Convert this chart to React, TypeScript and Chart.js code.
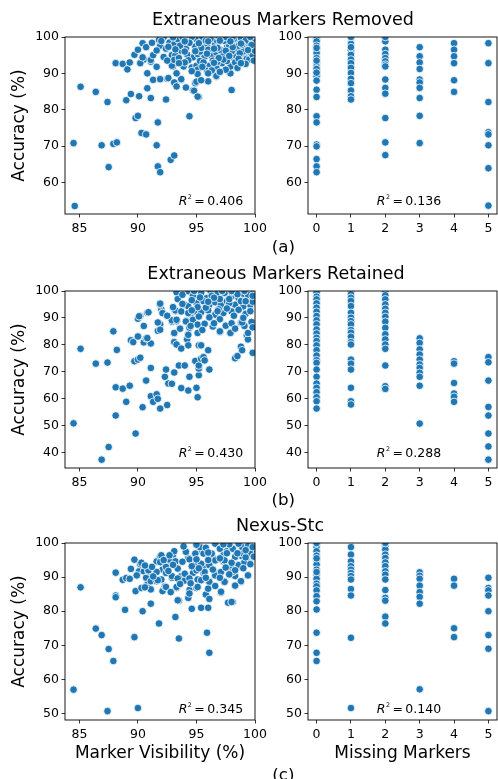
import React, { useEffect, useRef } from "react";
import { Chart, registerables } from "chart.js";

Chart.register(...registerables);

const FONT = "'DejaVu Sans', Verdana, sans-serif";
const BLUE = "#1f77b4";

// ---------- text ----------
const rowTitles = ["Extraneous Markers Removed", "Extraneous Markers Retained", "Nexus-Stc"];
const rowTags = ["(a)", "(b)", "(c)"];
const xLabelVis = "Marker Visibility (%)";
const xLabelMissing = "Missing Markers";
const yLabelAcc = "Accuracy (%)";
const r2Values = [["0.406", "0.136"], ["0.430", "0.288"], ["0.345", "0.140"]];

// ---------- ticks ----------
const visTicks = [85, 90, 95, 100];
const missingTicks = [0, 1, 2, 3, 4, 5];
const accTicksA = [60, 70, 80, 90, 100];
const accTicksB = [40, 50, 60, 70, 80, 90, 100];
const accTicksC = [50, 60, 70, 80, 90, 100];
const visRange = [83.77, 100];
const missingRange = [-0.25, 5.25];
const accRangeA = [51.3, 100];
const accRangeB = [34.2, 100];
const accRangeC = [48.1, 100];

// ---------- data: (a) Extraneous Markers Removed ----------
const removedVisAcc: [number, number][] = [
  [84.6, 53.5], [84.5, 70.8], [85.1, 86.3], [86.4, 84.9], [86.9, 70.2], [87.4, 82.1], [87.5, 64.2],
  [87.9, 70.6], [88.2, 71.0], [88.1, 92.8], [88.7, 92.6], [89.1, 91.1], [89.3, 93.0], [89.0, 82.6],
  [89.4, 84.3], [89.7, 95.1], [90.0, 96.5], [89.8, 77.7], [90.0, 78.3], [90.1, 83.7], [90.3, 73.6],
  [90.7, 73.2], [90.4, 98.3], [90.5, 93.8], [90.2, 92.8], [90.7, 97.2], [90.8, 90.0], [90.8, 85.9],
  [91.1, 83.2], [91.1, 93.2], [91.3, 88.2], [91.7, 76.5], [91.6, 70.2], [91.7, 64.4], [91.9, 62.8],
  [91.9, 88.3], [92.4, 82.8], [92.5, 88.5], [92.8, 66.2], [93.1, 67.4], [93.2, 87.3], [93.0, 91.9],
  [93.7, 88.2], [94.1, 86.1], [94.4, 78.2], [94.7, 85.3], [94.9, 87.3], [95.2, 83.5], [96.0, 87.8],
  [96.7, 89.1], [97.9, 90.0], [98.0, 85.4], [97.9, 91.9],
  [91.8, 99.2], [91.9, 97.6], [92.7, 98.5], [93.1, 98.0], [93.4, 99.4], [94.1, 96.8], [94.3, 99.6],
  [95.0, 99.4], [94.9, 97.4], [95.6, 98.9], [95.9, 97.6], [96.6, 98.0], [96.7, 99.2], [97.4, 98.9],
  [97.6, 97.1], [98.3, 98.0], [98.6, 98.9], [99.3, 98.5], [99.6, 96.8], [99.7, 99.4], [90.4, 94.4],
  [91.1, 93.7], [91.3, 95.0], [92.2, 94.5], [92.9, 95.0], [93.2, 95.0], [93.7, 96.2], [94.7, 94.4],
  [95.1, 95.3], [95.7, 94.6], [96.3, 94.8], [96.7, 95.7], [97.2, 95.0], [98.0, 94.5], [98.4, 94.8],
  [99.1, 95.3], [92.9, 92.1], [93.1, 93.7], [93.9, 91.9], [94.6, 91.6], [95.0, 92.1], [95.3, 93.4],
  [96.1, 92.1], [96.7, 91.6], [97.2, 92.8], [95.1, 91.0], [95.1, 89.8], [95.9, 90.7], [96.7, 89.3],
  [91.9, 88.4], [92.6, 88.7], [93.1, 87.5], [93.7, 88.4], [95.0, 87.7], [95.4, 88.1], [93.3, 86.4],
  [94.8, 85.2], [95.1, 83.6], [93.3, 90.0],
  [98.8, 99.6], [99.2, 97.2], [99.5, 98.2], [99.8, 99.0], [98.5, 96.5], [97.8, 97.5], [99.0, 96.0],
  [99.6, 95.8], [98.2, 99.5], [97.2, 99.7], [96.2, 99.5], [95.5, 100], [94.6, 100], [93.8, 100],
  [93.0, 99.9], [92.2, 100], [97.0, 96.5], [96.0, 96.5], [95.3, 96.0], [94.4, 98.4], [93.6, 97.6],
  [98.9, 93.4], [99.3, 94.0], [99.9, 97.0], [96.4, 93.5], [97.6, 93.4], [95.8, 99.0], [94.0, 98.8],
  [98.0, 96.0], [98.6, 97.6], [99.4, 99.8], [97.5, 100], [96.8, 97.0], [95.4, 97.0], [94.2, 95.2],
  [93.5, 94.2], [96.8, 93.2], [98.3, 93.0], [99.5, 93.8], [92.4, 96.8], [91.6, 96.3], [95.6, 93.0],
  [94.3, 93.6], [94.6, 90.6], [96.3, 90.8], [97.3, 93.8], [98.7, 95.5], [99.8, 95.0], [99.2, 99.0],
  [100, 98.6], [100, 96.2], [98.1, 100], [96.9, 100],
  [96.5, 96.8], [97.5, 96.2], [98.1, 97.2], [98.9, 97.9], [99.7, 97.8], [96.9, 94.2], [97.8, 94.8],
  [98.6, 94.0], [99.4, 96.4], [95.9, 95.4], [94.9, 96.1], [94.0, 96.0], [93.2, 96.6], [92.6, 97.3],
  [91.2, 98.4], [92.0, 98.9], [95.2, 98.3], [96.0, 98.8], [97.0, 99.0], [97.9, 98.8], [98.8, 98.2],
  [99.6, 100], [96.0, 90.0], [97.5, 91.0], [98.5, 91.5], [99.2, 92.6], [96.5, 92.9], [94.0, 93.0],
  [92.5, 93.5], [91.6, 91.8], [93.5, 92.8], [95.5, 91.8], [97.0, 90.4], [98.8, 92.8], [99.9, 93.5],
];
const removedMissingAcc: number[][] = [
  [100, 99.4, 98.8, 97.6, 96.5, 95.6, 94.2, 92.8, 91.9, 90.6, 89.6, 89.2, 88.0, 85.5, 83.5, 78.2, 76.5,
    70.4, 69.9, 66.4, 64.4, 62.8, 97.0, 93.5, 91.2, 90.2],
  [99.7, 98.1, 96.3, 95.1, 93.8, 92.8, 91.5, 90.1, 88.5, 87.3, 85.3, 83.7, 82.8, 100, 97.2],
  [99.7, 98.8, 96.5, 95.3, 94.2, 93.3, 92.4, 91.9, 88.3, 86.0, 84.4, 77.7, 71.0, 67.5, 100],
  [97.2, 94.7, 93.0, 91.2, 88.3, 87.5, 86.0, 83.2, 78.3, 70.8],
  [98.3, 96.5, 94.7, 92.8, 88.1, 84.9],
  [98.3, 92.8, 82.1, 73.8, 73.2, 70.2, 63.9, 53.6],
];

// ---------- data: (b) Extraneous Markers Retained ----------
const retainedVisAcc: [number, number][] = [
  [84.5, 50.8], [85.1, 78.5], [86.4, 73.0], [86.9, 37.3], [87.4, 73.4], [87.5, 42.0], [87.9, 85.0],
  [88.1, 53.7], [88.1, 64.2], [88.2, 78.1], [88.7, 63.7], [89.0, 58.8], [89.3, 64.8], [89.4, 81.7],
  [89.6, 81.0], [89.8, 47.0], [89.7, 73.9], [90.0, 74.5], [90.2, 75.2], [90.0, 83.2], [90.0, 89.7],
  [90.2, 90.7], [90.4, 56.8], [90.5, 80.9], [90.5, 87.0], [90.7, 66.7], [90.7, 82.4], [90.8, 91.9],
  [91.1, 80.5], [91.1, 71.4], [91.1, 60.9], [91.3, 58.8], [91.6, 61.6], [91.7, 59.9], [91.9, 56.3],
  [91.7, 85.2], [91.9, 87.6], [92.0, 93.2], [91.9, 95.0], [92.1, 91.9], [92.3, 68.1], [92.4, 70.8],
  [92.6, 65.6], [92.5, 57.6], [92.9, 65.5], [92.9, 88.6], [93.1, 69.7], [93.1, 81.0], [93.1, 84.2],
  [93.2, 92.5], [93.3, 80.1], [93.3, 88.8], [93.5, 72.3], [93.7, 63.9], [93.7, 78.6], [94.0, 72.3],
  [94.1, 88.7], [94.2, 82.0], [94.3, 79.8], [94.3, 83.9], [94.4, 68.1], [94.3, 63.0], [94.4, 86.3],
  [94.5, 91.3], [94.9, 74.0], [95.0, 64.0], [95.1, 60.5], [95.2, 68.7], [95.2, 71.2], [95.2, 72.3],
  [95.2, 79.8], [95.4, 79.8], [95.4, 74.8], [95.6, 75.4], [95.7, 74.2], [96.0, 78.0], [96.1, 70.8],
  [96.4, 87.0], [97.0, 84.8], [97.9, 84.5], [98.3, 75.0], [98.5, 75.8], [98.8, 79.3], [98.9, 78.0],
  [98.8, 88.2], [99.1, 87.0], [99.3, 83.5], [99.4, 82.0], [99.8, 77.0],
  [93.3, 99.5], [94.3, 99.9], [94.7, 98.3], [95.4, 99.3], [95.9, 97.4], [96.7, 99.0], [97.4, 99.3],
  [98.0, 98.0], [98.6, 97.4], [99.3, 97.4], [99.6, 99.9], [93.4, 97.0], [94.0, 94.9], [94.3, 94.3],
  [95.0, 95.5], [95.6, 96.2], [96.1, 94.9], [96.6, 95.8], [97.1, 94.9], [97.6, 96.2], [98.3, 94.9],
  [99.0, 94.3], [99.6, 94.9], [91.9, 95.3], [92.1, 91.8], [93.2, 92.8], [93.7, 92.4], [94.3, 91.8],
  [94.9, 92.4], [95.4, 92.1], [96.0, 92.8], [96.6, 91.2], [97.3, 91.8], [98.0, 92.4], [98.6, 93.0],
  [98.9, 88.3], [92.9, 89.1], [93.3, 89.3], [94.1, 88.7], [94.7, 89.3], [95.1, 87.5], [95.7, 87.8],
  [96.4, 86.8], [97.0, 85.0], [97.5, 87.1], [97.9, 84.4], [99.4, 84.4], [90.1, 90.6], [90.9, 92.1],
  [91.7, 88.3], [91.9, 85.6], [93.1, 84.4], [94.3, 83.7], [95.1, 84.4], [90.0, 83.1], [90.8, 82.5],
  [96.2, 100], [97.0, 97.0], [98.2, 99.6], [99.0, 99.0], [99.8, 96.0], [97.8, 95.5], [96.3, 98.2],
  [95.3, 97.6], [94.6, 96.6], [98.8, 96.2], [99.4, 98.6], [97.2, 100], [95.8, 93.8], [96.9, 93.2],
  [96.5, 97.5], [97.8, 97.0], [98.5, 98.8], [99.2, 96.2], [99.8, 98.2], [96.0, 96.0], [95.1, 94.0],
  [94.6, 92.8], [93.8, 95.2], [93.0, 94.0], [96.8, 92.5], [97.6, 93.5], [98.2, 90.8], [99.2, 91.5],
  [99.6, 92.5], [97.0, 89.5], [96.1, 90.2], [95.2, 90.5], [98.0, 88.0], [99.0, 90.0], [94.5, 87.0],
  [93.6, 86.0], [96.5, 88.0], [98.3, 86.0], [95.5, 85.5], [92.5, 90.8], [98.0, 100], [99.1, 100],
  [94.8, 100], [93.8, 98.6], [99.7, 88.5], [99.8, 86.5],
];
const retainedMissingAcc: number[][] = [
  [100, 99.4, 97.9, 96.9, 95.4, 93.8, 92.3, 90.7, 89.1, 87.6, 85.7, 84.2, 82.6, 81.4, 79.8, 78.0, 76.0,
    74.3, 73.3, 70.8, 68.1, 65.6, 64.0, 62.4, 60.5, 59.0, 56.3],
  [99.8, 98.8, 97.5, 96.3, 94.4, 91.9, 90.1, 88.8, 87.6, 85.5, 84.5, 83.0, 81.0, 80.1, 74.5, 73.0,
    70.8, 64.0, 59.0, 57.8],
  [100, 98.4, 96.9, 95.0, 93.4, 91.9, 90.4, 88.6, 86.3, 83.9, 82.0, 80.1, 78.5, 72.3, 64.6, 63.6],
  [82.4, 80.7, 78.3, 76.4, 74.5, 72.7, 71.4, 69.6, 68.1, 64.8, 50.7],
  [73.9, 73.0, 65.8, 61.9, 60.7, 58.8],
  [75.4, 73.5, 66.7, 56.9, 53.7, 47.0, 42.2, 37.3],
];

// ---------- data: (c) Nexus-Stc ----------
const nexusVisAcc: [number, number][] = [
  [84.5, 57.0], [85.1, 87.0], [86.4, 74.9], [86.9, 73.0], [87.5, 68.9], [87.9, 65.4], [87.4, 50.7],
  [90.0, 51.6], [88.1, 91.3], [88.1, 84.6], [88.1, 84.1], [88.7, 89.2], [88.9, 80.4], [89.0, 89.7],
  [89.3, 89.5], [89.4, 92.4], [89.7, 95.1], [89.8, 85.9], [89.7, 72.4], [90.1, 91.7], [90.2, 93.8],
  [90.3, 86.8], [90.4, 80.0], [90.5, 91.7], [90.7, 89.8], [90.8, 87.8], [90.9, 91.7], [91.1, 86.4],
  [91.1, 88.8], [91.1, 82.2], [91.6, 88.8], [91.6, 94.6], [91.8, 76.4], [91.9, 96.1], [92.0, 89.3],
  [92.1, 85.9], [92.1, 92.2], [92.3, 87.3], [92.4, 91.2], [92.6, 93.2], [92.7, 95.1], [92.9, 89.8],
  [93.0, 96.6], [93.1, 97.6], [93.2, 94.6], [93.2, 78.3], [93.3, 86.8], [93.5, 72.0], [93.5, 83.1],
  [93.7, 90.3], [94.0, 89.0], [94.1, 97.4], [94.3, 95.6], [94.3, 83.9], [94.4, 86.2], [94.6, 80.7],
  [94.7, 91.2], [94.9, 94.2], [95.0, 86.8], [95.1, 89.3], [95.3, 98.1], [95.4, 81.0], [95.6, 93.2],
  [95.6, 91.2], [95.8, 84.9], [95.9, 73.7], [96.0, 81.0], [96.1, 67.8], [96.1, 83.6], [96.1, 88.8],
  [96.4, 95.6], [96.7, 100], [96.9, 91.2], [97.1, 85.4], [97.3, 94.6], [97.4, 88.8], [97.6, 97.6],
  [97.7, 82.5], [97.9, 92.2], [98.1, 82.7], [98.1, 98.5], [98.3, 90.3], [98.6, 93.2], [98.8, 88.6],
  [98.9, 96.1], [99.3, 94.6], [99.4, 99.5], [99.7, 97.1], [99.9, 97.6],
  [96.6, 99.8], [95.3, 98.8], [96.3, 96.9], [97.0, 98.3], [98.1, 98.3], [98.9, 98.8], [99.4, 99.1],
  [99.6, 96.9], [94.9, 96.9], [95.6, 96.9], [97.3, 96.4], [98.3, 95.9], [99.0, 96.9], [94.1, 97.4],
  [92.0, 96.4], [92.7, 96.4], [94.4, 95.2], [95.4, 93.9], [96.1, 93.5], [96.6, 94.9], [97.4, 94.9],
  [97.9, 93.0], [98.6, 93.5], [99.1, 94.4], [95.0, 92.0], [95.7, 91.5], [96.6, 90.5], [97.1, 91.5],
  [98.1, 91.5], [98.8, 88.8], [97.4, 88.6], [90.3, 94.2], [91.9, 94.4], [92.4, 93.0], [93.4, 92.5],
  [94.0, 91.0], [94.4, 89.6], [90.9, 92.0], [91.6, 91.5], [92.9, 90.3], [93.4, 89.6], [95.4, 89.1],
  [96.1, 88.6], [91.7, 89.1], [92.4, 87.1], [93.3, 87.1], [95.1, 87.1], [96.0, 86.6], [97.1, 85.7],
  [98.0, 82.7], [94.4, 85.2], [93.4, 83.2], [95.8, 98.6], [97.8, 99.6], [99.8, 98.8], [99.2, 95.8],
  [96.0, 97.2], [97.6, 97.0], [98.5, 97.0], [99.2, 97.9], [99.9, 96.0], [95.0, 95.2], [96.0, 95.0],
  [97.0, 95.5], [98.0, 94.2], [99.6, 93.8], [94.6, 93.2], [95.2, 92.6], [96.4, 92.2], [97.5, 92.8],
  [98.3, 92.0], [99.0, 92.6], [99.4, 90.5], [93.8, 94.5], [93.0, 93.6], [92.2, 95.0], [91.2, 93.0],
  [90.6, 93.4], [92.6, 91.8], [94.5, 88.2], [95.8, 89.8], [97.0, 89.8], [97.8, 90.8], [93.6, 88.0],
  [92.8, 85.6], [96.6, 87.4], [98.3, 87.5], [91.3, 90.2], [89.9, 90.5], [90.6, 87.0], [93.9, 99.0],
  [95.0, 99.5], [97.3, 99.6], [98.6, 99.8],
];
const nexusMissingAcc: number[][] = [
  [99.8, 98.8, 97.6, 96.3, 94.9, 93.7, 92.2, 90.7, 89.5, 88.1, 87.3, 86.1, 84.4, 82.9, 80.5, 73.7, 67.8,
    65.4, 100, 95.5, 91.5],
  [98.8, 96.6, 94.6, 93.2, 92.2, 91.2, 90.3, 89.3, 86.5, 84.6, 72.2, 51.6],
  [99.8, 99.0, 98.1, 96.6, 95.6, 94.3, 93.2, 91.7, 90.7, 89.3, 86.2, 83.9, 83.1, 78.4, 76.4, 100],
  [91.4, 90.4, 89.5, 87.5, 85.6, 84.2, 82.2, 57.1],
  [89.5, 87.5, 75.0, 72.4],
  [89.8, 86.8, 86.1, 84.6, 80.0, 73.0, 69.0, 50.7],
];

// ---------- layout (pixels) ----------
const COLS = [{ l: 65, r: 255, canvasLeft: 0 }, { l: 308, r: 497, canvasLeft: 258 }];
const ROWS = [{ t: 37, b: 214 }, { t: 291, b: 468 }, { t: 543, b: 720 }];
// R^2 text anchor (data coords: left x, baseline y)
const r2AnchorX = [93.48, 1.75];
const r2AnchorY = [53.8, 38.2, 50.2];

const framePlugin = {
  id: "frame",
  afterDraw(chart: any) {
    const { ctx, chartArea } = chart;
    ctx.save();
    ctx.strokeStyle = "#000";
    ctx.lineWidth = 0.9;
    ctx.strokeRect(chartArea.left, chartArea.top, chartArea.right - chartArea.left, chartArea.bottom - chartArea.top);
    ctx.restore();
  },
};

const r2Plugin = {
  id: "r2",
  afterDatasetsDraw(chart: any, _args: any, opts: any) {
    if (!opts || !opts.text) return;
    const { ctx } = chart;
    const xs = chart.scales.x;
    const ys = chart.scales.y;
    let x = xs.getPixelForValue(opts.x);
    const y = ys.getPixelForValue(opts.y);
    const fs = 12.5;
    ctx.save();
    ctx.fillStyle = "#000";
    ctx.textBaseline = "alphabetic";
    ctx.textAlign = "left";
    ctx.font = `italic ${fs}px ${FONT}`;
    ctx.fillText("R", x, y);
    x += ctx.measureText("R").width + 0.5;
    ctx.font = `${fs * 0.5}px ${FONT}`;
    ctx.fillText("2", x, y - fs * 0.5);
    x += ctx.measureText("2").width + 2.5;
    ctx.font = `${fs}px ${FONT}`;
    ctx.fillText("=", x, y);
    x += ctx.measureText("=").width + 2.5;
    ctx.fillText(opts.text, x, y);
    ctx.restore();
  },
};

type PanelProps = {
  row: number;
  col: number;
  points: { x: number; y: number }[];
  xRange: number[];
  yRange: number[];
  xTicks: number[];
  yTicks: number[];
  xTitle?: string;
  yTitle?: string;
  r2: string;
};

function Panel({ row, col, points, xRange, yRange, xTicks, yTicks, xTitle, yTitle, r2 }: PanelProps) {
  const ref = useRef<HTMLCanvasElement | null>(null);
  const C = COLS[col];
  const R = ROWS[row];
  const padT = 14;
  const padR = 20;
  const padL = C.l - C.canvasLeft;
  const padB = row === 2 ? 50 : 25;
  const left = C.canvasLeft;
  const top = R.t - padT;
  const width = C.r + padR - left;
  const height = R.b + padB - top;

  useEffect(() => {
    if (!ref.current) return;
    const tickFont = { family: FONT, size: 12.5 };
    const chart = new Chart(ref.current, {
      type: "scatter",
      data: {
        datasets: [
          {
            data: points,
            backgroundColor: BLUE,
            borderColor: "#ffffff",
            borderWidth: 0.8,
            pointRadius: 3.8,
            pointHoverRadius: 3.8,
          },
        ],
      },
      options: {
        animation: false,
        responsive: false,
        devicePixelRatio: 1,
        events: [],
        layout: { padding: { left: 0, top: padT, right: padR, bottom: 0 }, autoPadding: false },
        plugins: {
          legend: { display: false },
          tooltip: { enabled: false },
          r2: { text: r2, x: r2AnchorX[col], y: r2AnchorY[row] },
        } as any,
        scales: {
          x: {
            type: "linear",
            position: "bottom",
            min: xRange[0],
            max: xRange[1],
            afterBuildTicks: (s: any) => {
              s.ticks = xTicks.map((v) => ({ value: v }));
            },
            afterFit: (s: any) => {
              s.height = padB;
            },
            ticks: { font: tickFont, color: "#000", padding: 4, maxRotation: 0, autoSkip: false },
            grid: { drawOnChartArea: false, drawTicks: true, tickLength: 3.5, color: "#000", lineWidth: 0.8 },
            border: { display: false },
            title: xTitle
              ? { display: true, text: xTitle, color: "#000", font: { family: FONT, size: 17 }, padding: { top: 0, bottom: 6.3 } }
              : { display: false },
          },
          y: {
            type: "linear",
            position: "left",
            min: yRange[0],
            max: yRange[1],
            afterBuildTicks: (s: any) => {
              s.ticks = yTicks.map((v) => ({ value: v }));
            },
            afterFit: (s: any) => {
              s.width = padL;
            },
            ticks: { font: tickFont, color: "#000", padding: 2.5, autoSkip: false },
            grid: { drawOnChartArea: false, drawTicks: true, tickLength: 3.5, color: "#000", lineWidth: 0.8 },
            border: { display: false },
            title: yTitle
              ? { display: true, text: yTitle, color: "#000", font: { family: FONT, size: 17 }, padding: { top: 9.3, bottom: 0 } }
              : { display: false },
          },
        },
      } as any,
      plugins: [framePlugin, r2Plugin],
    });
    return () => chart.destroy();
  }, []);

  return (
    <canvas
      ref={ref}
      width={width}
      height={height}
      style={{ position: "absolute", left, top, width, height }}
    />
  );
}

const toPts = (arr: [number, number][]) => arr.map(([x, y]) => ({ x, y }));
const toColumnPts = (cols: number[][]) =>
  cols.flatMap((vals, i) => vals.map((y) => ({ x: missingTicks[i], y })));

const rowData = [
  { vis: removedVisAcc, miss: removedMissingAcc, yTicks: accTicksA, yRange: accRangeA },
  { vis: retainedVisAcc, miss: retainedMissingAcc, yTicks: accTicksB, yRange: accRangeB },
  { vis: nexusVisAcc, miss: nexusMissingAcc, yTicks: accTicksC, yRange: accRangeC },
];

// text placement (pixels): title centre x and baseline y, tag centre x and baseline
const titleCenters = [283, 276, 280];
const titleBaselines = [26.3, 280.3, 531.7];
const tagBaselines = [251.7, 505, 780];

function Label({ text, cx, baseline, size }: { text: string; cx: number; baseline: number; size: number }) {
  const top = baseline - 0.846 * size;
  return (
    <div
      style={{
        position: "absolute",
        left: cx,
        top,
        transform: "translateX(-50%)",
        fontFamily: FONT,
        fontSize: size,
        lineHeight: `${size}px`,
        whiteSpace: "nowrap",
        color: "#000",
      }}
    >
      {text}
    </div>
  );
}

export default function App() {
  return (
    <div
      style={{
        position: "absolute",
        left: 0,
        top: 0,
        width: 498,
        height: 779,
        overflow: "hidden",
        background: "#fff",
      }}
    >
      {rowData.map((rd, row) => (
        <React.Fragment key={row}>
          <Panel
            row={row}
            col={0}
            points={toPts(rd.vis)}
            xRange={visRange}
            yRange={rd.yRange}
            xTicks={visTicks}
            yTicks={rd.yTicks}
            xTitle={row === 2 ? xLabelVis : undefined}
            yTitle={yLabelAcc}
            r2={r2Values[row][0]}
          />
          <Panel
            row={row}
            col={1}
            points={toColumnPts(rd.miss)}
            xRange={missingRange}
            yRange={rd.yRange}
            xTicks={missingTicks}
            yTicks={rd.yTicks}
            xTitle={row === 2 ? xLabelMissing : undefined}
            r2={r2Values[row][1]}
          />
          <Label text={rowTitles[row]} cx={titleCenters[row]} baseline={titleBaselines[row]} size={17.5} />
          <Label text={rowTags[row]} cx={283.3} baseline={tagBaselines[row]} size={16.7} />
        </React.Fragment>
      ))}
    </div>
  );
}
